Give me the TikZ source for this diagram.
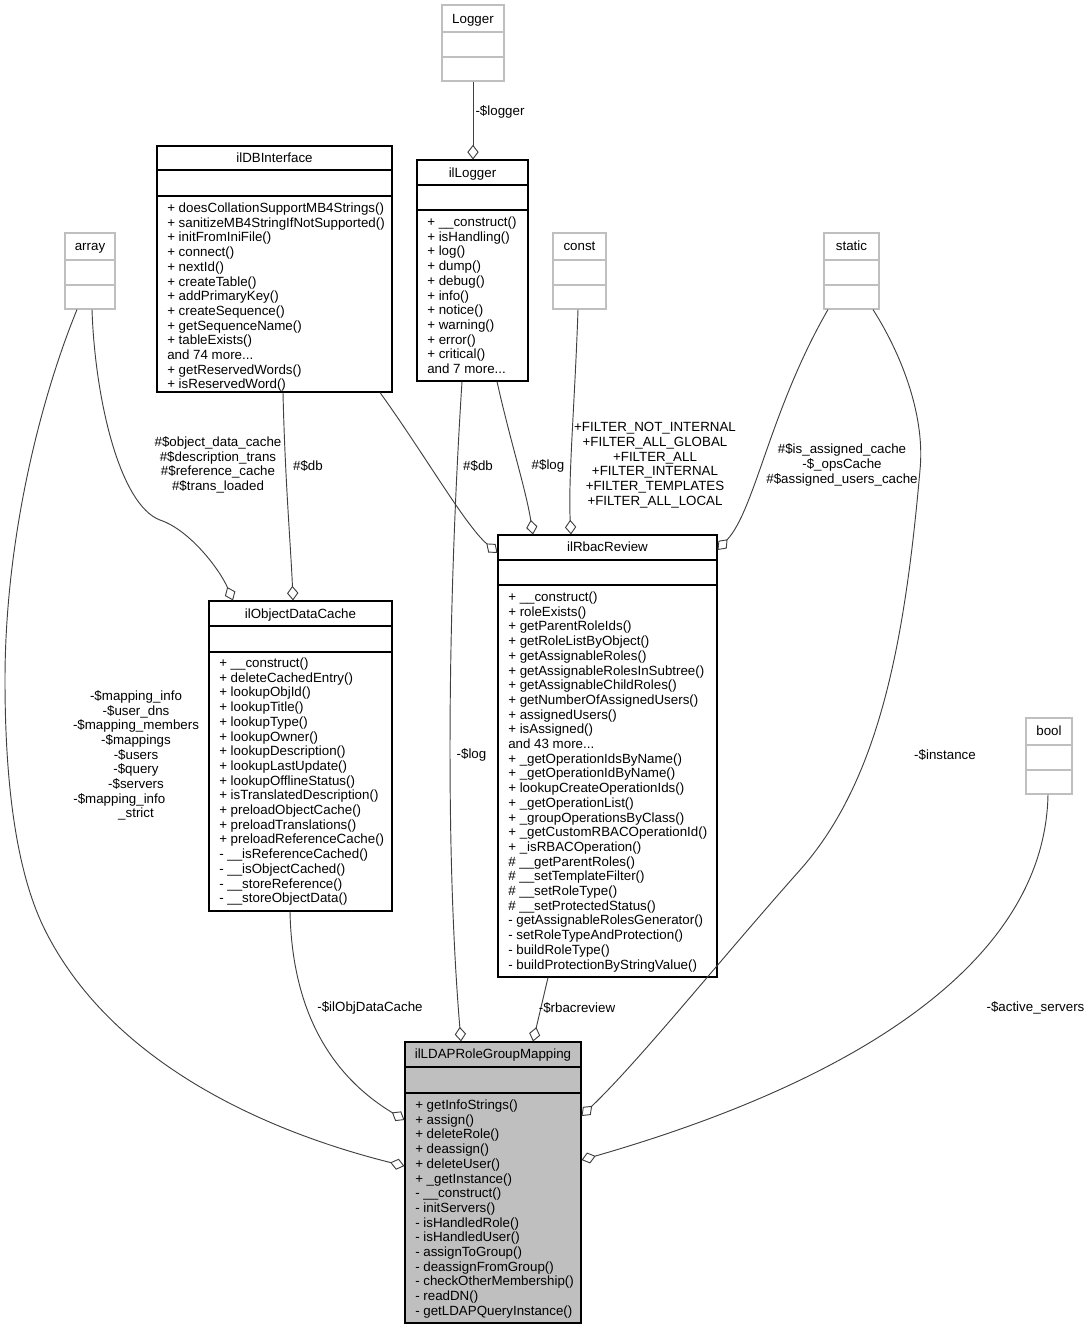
\documentclass[tikz,border=0pt]{standalone}
\usepackage{fontspec}
\setmainfont{Liberation Sans}
\usetikzlibrary{arrows.meta}
\usetikzlibrary{fit}

\newcommand{\andmore}[1]{and #1 more...}

\tikzset{
  clsbox/.style={draw=black, line width=0.8pt, inner sep=0pt},
  extbox/.style={draw=black!25, line width=0.8pt, inner sep=0pt},
  ttl/.style={anchor=base, inner sep=0pt, font=\fontsize{10}{11}\selectfont},
  meth/.style={anchor=base west, inner sep=0pt, font=\fontsize{10}{11}\selectfont},
  lbl/.style={align=center, inner sep=0pt, font=\fontsize{10}{11}\selectfont},
  aggr/.style={draw=black!75, line width=0.7pt, -{Diamond[open,length=11pt,width=8.5pt]}},
}

\begin{document}
\begin{tikzpicture}[x=0.75pt,y=0.75pt,yscale=-1,xscale=1]
\useasboundingbox (0,0) rectangle (1091,1329);

%Class: Logger
\node[extbox, fit={(442,5) (504,81)}] (Logger) {};
\draw[extbox] (Logger.west |- 0,32) -- (Logger.east |- 0,32);
\draw[extbox] (Logger.west |- 0,57) -- (Logger.east |- 0,57);
\node[ttl] (Logger-t) at (473,23) {Logger};

%Class: array
\node[extbox, fit={(65,233) (115,309)}] (array) {};
\draw[extbox] (array.west |- 0,260) -- (array.east |- 0,260);
\draw[extbox] (array.west |- 0,285) -- (array.east |- 0,285);
\node[ttl] (array-t) at (90,250) {array};

%Class: const
\node[extbox, fit={(553,233) (606,309)}] (const) {};
\draw[extbox] (const.west |- 0,260) -- (const.east |- 0,260);
\draw[extbox] (const.west |- 0,285) -- (const.east |- 0,285);
\node[ttl] (const-t) at (579.5,250) {const};

%Class: static
\node[extbox, fit={(824,233) (879,309)}] (static) {};
\draw[extbox] (static.west |- 0,260) -- (static.east |- 0,260);
\draw[extbox] (static.west |- 0,285) -- (static.east |- 0,285);
\node[ttl] (static-t) at (851.5,250) {static};

%Class: bool
\node[extbox, fit={(1026,718) (1072,794)}] (bool) {};
\draw[extbox] (bool.west |- 0,745) -- (bool.east |- 0,745);
\draw[extbox] (bool.west |- 0,770) -- (bool.east |- 0,770);
\node[ttl] (bool-t) at (1049,735) {bool};

%Class: ilLogger
\node[clsbox, fit={(417,160) (528,381)}] (ilLogger) {};
\draw[clsbox] (ilLogger.west |- 0,185) -- (ilLogger.east |- 0,185);
\draw[clsbox] (ilLogger.west |- 0,210) -- (ilLogger.east |- 0,210);
\node[ttl] (ilLogger-t) at (472.5,177) {ilLogger};
\foreach \m [count=\i from 0] in {+ \_\_construct(), + isHandling(), + log(), + dump(), + debug(), + info(), + notice(), + warning(), + error(), + critical(), \andmore{7}}
  \node[meth] (ilLogger-m\i) at (427,226.5+14.7*\i) {\m};

%Class: ilDBInterface
\node[clsbox, fit={(157,146) (392,392)}] (ilDBInterface) {};
\draw[clsbox] (ilDBInterface.west |- 0,170) -- (ilDBInterface.east |- 0,170);
\draw[clsbox] (ilDBInterface.west |- 0,196) -- (ilDBInterface.east |- 0,196);
\node[ttl] (ilDBInterface-t) at (274.5,162) {ilDBInterface};
\foreach \m [count=\i from 0] in {+ doesCollationSupportMB4Strings(), + sanitizeMB4StringIfNotSupported(), + initFromIniFile(), + connect(), + nextId(), + createTable(), + addPrimaryKey(), + createSequence(), + getSequenceName(), + tableExists(), \andmore{74}, + getReservedWords(), + isReservedWord()}
  \node[meth] (ilDBInterface-m\i) at (167,212.5+14.7*\i) {\m};

%Class: ilRbacReview
\node[clsbox, fit={(498,535) (717,977)}] (ilRbacReview) {};
\draw[clsbox] (ilRbacReview.west |- 0,560) -- (ilRbacReview.east |- 0,560);
\draw[clsbox] (ilRbacReview.west |- 0,585) -- (ilRbacReview.east |- 0,585);
\node[ttl] (ilRbacReview-t) at (607.5,551) {ilRbacReview};
\foreach \m [count=\i from 0] in {+ \_\_construct(), + roleExists(), + getParentRoleIds(), + getRoleListByObject(), + getAssignableRoles(), + getAssignableRolesInSubtree(), + getAssignableChildRoles(), + getNumberOfAssignedUsers(), + assignedUsers(), + isAssigned(), \andmore{43}, + \_getOperationIdsByName(), + \_getOperationIdByName(), + lookupCreateOperationIds(), + \_getOperationList(), + \_groupOperationsByClass(), + \_getCustomRBACOperationId(), + \_isRBACOperation(), \# \_\_getParentRoles(), \# \_\_setTemplateFilter(), \# \_\_setRoleType(), \# \_\_setProtectedStatus(), - getAssignableRolesGenerator(), - setRoleTypeAndProtection(), - buildRoleType(), - buildProtectionByStringValue()}
  \node[meth] (ilRbacReview-m\i) at (508,601.5+14.7*\i) {\m};

%Class: ilObjectDataCache
\node[clsbox, fit={(209,601) (392,911)}] (ilObjectDataCache) {};
\draw[clsbox] (ilObjectDataCache.west |- 0,626) -- (ilObjectDataCache.east |- 0,626);
\draw[clsbox] (ilObjectDataCache.west |- 0,652) -- (ilObjectDataCache.east |- 0,652);
\node[ttl] (ilObjectDataCache-t) at (300.5,618) {ilObjectDataCache};
\foreach \m [count=\i from 0] in {+ \_\_construct(), + deleteCachedEntry(), + lookupObjId(), + lookupTitle(), + lookupType(), + lookupOwner(), + lookupDescription(), + lookupLastUpdate(), + lookupOfflineStatus(), + isTranslatedDescription(), + preloadObjectCache(), + preloadTranslations(), + preloadReferenceCache(), - \_\_isReferenceCached(), - \_\_isObjectCached(), - \_\_storeReference(), - \_\_storeObjectData()}
  \node[meth] (ilObjectDataCache-m\i) at (219,667.5+14.7*\i) {\m};

%Class: ilLDAPRoleGroupMapping
\node[clsbox, fill=black!25, fit={(405,1042) (581,1323)}] (ilLDAPRoleGroupMapping) {};
\draw[clsbox] (ilLDAPRoleGroupMapping.west |- 0,1067) -- (ilLDAPRoleGroupMapping.east |- 0,1067);
\draw[clsbox] (ilLDAPRoleGroupMapping.west |- 0,1093) -- (ilLDAPRoleGroupMapping.east |- 0,1093);
\node[ttl] (ilLDAPRoleGroupMapping-t) at (493,1058) {ilLDAPRoleGroupMapping};
\foreach \m [count=\i from 0] in {+ getInfoStrings(), + assign(), + deleteRole(), + deassign(), + deleteUser(), + \_getInstance(), - \_\_construct(), - initServers(), - isHandledRole(), - isHandledUser(), - assignToGroup(), - deassignFromGroup(), - checkOtherMembership(), - readDN(), - getLDAPQueryInstance()}
  \node[meth] (ilLDAPRoleGroupMapping-m\i) at (415,1109.5+14.7*\i) {\m};

%Aggregations
\draw[aggr] (473,0 |- Logger.south) -- (473,0 |- ilLogger.north);
\node[lbl] (lbl-logger) at (500,112) {-\$logger};

\draw[aggr] (283,0 |- ilDBInterface.south) .. controls (285,480) and (291,550) .. (293,0 |- ilObjectDataCache.north);
\node[lbl] (lbl-db1) at (308,466) {\#\$db};

\draw[aggr] (92,0 |- array.south) .. controls (95,400) and (120,505) .. (160,520) .. controls (190,530) and (220,570) .. (233,0 |- ilObjectDataCache.north);
\node[lbl] (lbl-cache1) at (218,465) {\#\$object\_data\_cache\\\#\$description\_trans\\\#\$reference\_cache\\\#\$trans\_loaded};

\draw[aggr] (77,0 |- array.south) .. controls (40,400) and (5,540) .. (5,680) .. controls (5,800) and (20,880) .. (45,930) .. controls (110,1060) and (260,1130) .. (ilLDAPRoleGroupMapping.west |- 0,1166);
\node[lbl] (lbl-mapping) at (136,755.5) {-\$mapping\_info\\-\$user\_dns\\-\$mapping\_members\\-\$mappings\\-\$users\\-\$query\\-\$servers\\-\$mapping\_info\kern 25pt\\\_strict};

\draw[aggr] (380,0 |- ilDBInterface.south) .. controls (425,455) and (465,525) .. (ilRbacReview.west |- 0,553);
\node[lbl] (lbl-db2) at (478,466) {\#\$db};

\draw[aggr] (497,0 |- ilLogger.south) .. controls (510,440) and (526,490) .. (533,0 |- ilRbacReview.north);
\node[lbl] (lbl-log1) at (548,466) {\#\$log};

\draw[aggr] (578,0 |- const.south) .. controls (575,400) and (568,480) .. (571,0 |- ilRbacReview.north);
\node[lbl] (lbl-filter) at (655,465) {+FILTER\_NOT\_INTERNAL\\+FILTER\_ALL\_GLOBAL\\+FILTER\_ALL\\+FILTER\_INTERNAL\\+FILTER\_TEMPLATES\\+FILTER\_ALL\_LOCAL};

\draw[aggr] (828,0 |- static.south) .. controls (770,410) and (755,510) .. (ilRbacReview.east |- 0,550);
\node[lbl] (lbl-cache2) at (842,465) {\#\$is\_assigned\_cache\\-\$\_opsCache\\\#\$assigned\_users\_cache};

\draw[aggr] (462,0 |- ilLogger.south) .. controls (448,600) and (445,850) .. (461,0 |- ilLDAPRoleGroupMapping.north);
\node[lbl] (lbl-log2) at (471.5,755) {-\$log};

\draw[aggr] (873,0 |- static.south) .. controls (905,360) and (925,420) .. (920,470) .. controls (905,640) and (880,780) .. (800,870) .. controls (720,960) and (640,1060) .. (ilLDAPRoleGroupMapping.east |- 0,1116);
\node[lbl] (lbl-instance) at (945,755) {-\$instance};

\draw[aggr] (1048,0 |- bool.south) .. controls (1045,960) and (860,1080) .. (ilLDAPRoleGroupMapping.east |- 0,1160);
\node[lbl] (lbl-active) at (1035.5,1008) {-\$active\_servers};

\draw[aggr] (290,0 |- ilObjectDataCache.south) .. controls (292,1010) and (330,1075) .. (ilLDAPRoleGroupMapping.west |- 0,1120);
\node[lbl] (lbl-objcache) at (370,1008) {-\$ilObjDataCache};

\draw[aggr] (548,0 |- ilRbacReview.south) -- (533,0 |- ilLDAPRoleGroupMapping.north);
\node[lbl] (lbl-rbac) at (577,1008) {-\$rbacreview};

\end{tikzpicture}
\end{document}
